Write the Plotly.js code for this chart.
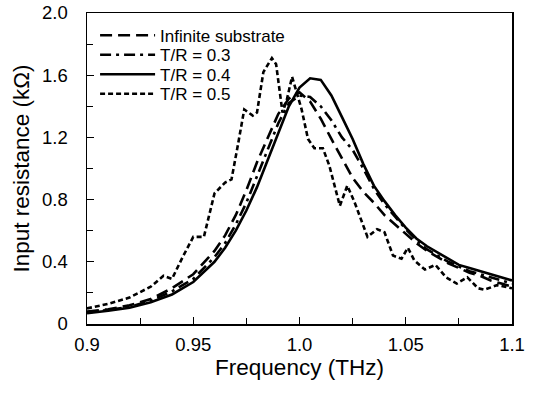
<!DOCTYPE html>
<html><head><meta charset="utf-8">
<script src="https://cdn.plot.ly/plotly-3.0.1.min.js"></script>
<style>body{margin:0;padding:0;background:#fff}#chart{width:534px;height:393px}</style>
</head><body><div id="chart"></div>
<script>
// Frequency (THz) and input resistance (kOhm)
const freqSmooth = [0.90,0.91,0.92,0.93,0.94,0.95,0.96,0.965,0.97,0.975,0.98,0.985,0.99,0.995,1.000,1.005,1.010,1.015,1.020,1.025,1.030,1.035,1.040,1.045,1.050,1.055,1.060,1.065,1.070,1.075,1.080,1.085,1.090,1.095,1.100];
const infiniteSubstrate = [0.08,0.095,0.12,0.16,0.23,0.32,0.47,0.57,0.70,0.86,1.04,1.20,1.35,1.45,1.49,1.43,1.32,1.19,1.06,0.94,0.85,0.78,0.70,0.64,0.58,0.52,0.47,0.43,0.39,0.36,0.33,0.31,0.28,0.26,0.24];
const tr03 = [0.075,0.09,0.11,0.15,0.21,0.29,0.43,0.52,0.64,0.78,0.95,1.12,1.29,1.42,1.47,1.46,1.40,1.31,1.20,1.12,1.00,0.87,0.77,0.69,0.61,0.54,0.48,0.44,0.40,0.37,0.34,0.32,0.30,0.28,0.26];
const tr04 = [0.07,0.085,0.105,0.14,0.19,0.27,0.40,0.49,0.60,0.73,0.88,1.05,1.22,1.40,1.52,1.58,1.57,1.47,1.33,1.19,1.03,0.89,0.79,0.70,0.62,0.55,0.50,0.46,0.42,0.38,0.36,0.34,0.32,0.30,0.28];
const freqTR05 = [0.900,0.910,0.920,0.930,0.936,0.940,0.945,0.950,0.955,0.960,0.965,0.968,0.971,0.974,0.978,0.980,0.983,0.987,0.989,0.991,0.992,0.994,0.9965,0.998,1.001,1.004,1.007,1.011,1.014,1.019,1.0225,1.026,1.032,1.0365,1.040,1.044,1.048,1.051,1.054,1.059,1.064,1.069,1.074,1.079,1.084,1.087,1.093,1.100];
const tr05 = [0.10,0.13,0.17,0.24,0.31,0.29,0.43,0.56,0.56,0.84,0.91,0.93,1.15,1.38,1.34,1.36,1.62,1.71,1.67,1.46,1.36,1.44,1.59,1.52,1.38,1.19,1.13,1.13,1.02,0.76,0.89,0.78,0.56,0.61,0.59,0.44,0.42,0.49,0.41,0.35,0.38,0.30,0.26,0.30,0.23,0.22,0.25,0.23];
const seriesNames = ['Infinite substrate','T/R = 0.3','T/R = 0.4','T/R = 0.5'];
const xTickVals = [0.9,0.95,1.0,1.05,1.1];
const xTickText = ['0.9','0.95','1.0','1.05','1.1'];
const yTickVals = [0,0.4,0.8,1.2,1.6,2.0];
const yTickText = ['0','0.4','0.8','1.2','1.6','2.0'];

const lw = 2.6;
const traces = [
  {x:freqSmooth, y:infiniteSubstrate, name:seriesNames[0], mode:'lines', line:{color:'#000',width:lw,dash:'12px,6px'}},
  {x:freqSmooth, y:tr03, name:seriesNames[1], mode:'lines', line:{color:'#000',width:lw,dash:'11px,5px,3px,5px'}},
  {x:freqSmooth, y:tr04, name:seriesNames[2], mode:'lines', line:{color:'#000',width:lw}},
  {x:freqTR05, y:tr05, name:seriesNames[3], mode:'lines', line:{color:'#000',width:lw,dash:'5px,3px'}}
];
const fam = 'Liberation Sans, Arial, sans-serif';
const layout = {
  width:534, height:393,
  margin:{l:87,r:22,t:13,b:69},
  paper_bgcolor:'#fff', plot_bgcolor:'#fff',
  font:{family:fam,color:'#000'},
  showlegend:true,
  legend:{x:0.019,y:0.985,xanchor:'left',yanchor:'top',bgcolor:'rgba(0,0,0,0)',font:{size:17,family:fam,color:'#000'},tracegroupgap:0,itemwidth:55},
  xaxis:{range:[0.9,1.1],tickvals:xTickVals,ticktext:xTickText,ticks:'inside',ticklen:7,tickwidth:1.2,tickcolor:'#000',
    showline:true,linecolor:'#000',linewidth:1.5,mirror:true,showgrid:false,zeroline:false,ticklabelstandoff:3,
    tickfont:{size:18.5,family:fam,color:'#000'},
    minor:{dtick:0.025,tick0:0.9,ticks:'inside',ticklen:6,tickcolor:'#000',tickwidth:1.2,showgrid:false},
    title:{text:'Frequency (THz)',font:{size:22.5,family:fam,color:'#000'},standoff:5}},
  yaxis:{range:[0,2.0],tickvals:yTickVals,ticktext:yTickText,ticks:'inside',ticklen:7,tickwidth:1.2,tickcolor:'#000',
    showline:true,linecolor:'#000',linewidth:1.5,mirror:true,showgrid:false,zeroline:false,ticklabelstandoff:14,
    tickfont:{size:18.5,family:fam,color:'#000'},
    minor:{dtick:0.2,tick0:0,ticks:'inside',ticklen:6,tickcolor:'#000',tickwidth:1.2,showgrid:false},
    title:{text:'Input resistance (kΩ)',font:{size:22.5,family:fam,color:'#000'},standoff:6}}
};
Plotly.newPlot('chart', traces, layout, {displayModeBar:false, staticPlot:true}).then(function(gd){
  // tighten legend row spacing to match the reference
  const items = gd.querySelectorAll('.legend .traces');
  let y0 = null;
  items.forEach(function(g, i){
    const m = /translate\(\s*([-\d.]+)[ ,]+([-\d.]+)\s*\)/.exec(g.getAttribute('transform') || '');
    if(!m) return;
    if(y0 === null){ y0 = parseFloat(m[2]); }
    g.setAttribute('transform', 'translate(' + parseFloat(m[1]) + ',' + (y0 + i * 19.5) + ')');
  });
});
</script></body></html>
